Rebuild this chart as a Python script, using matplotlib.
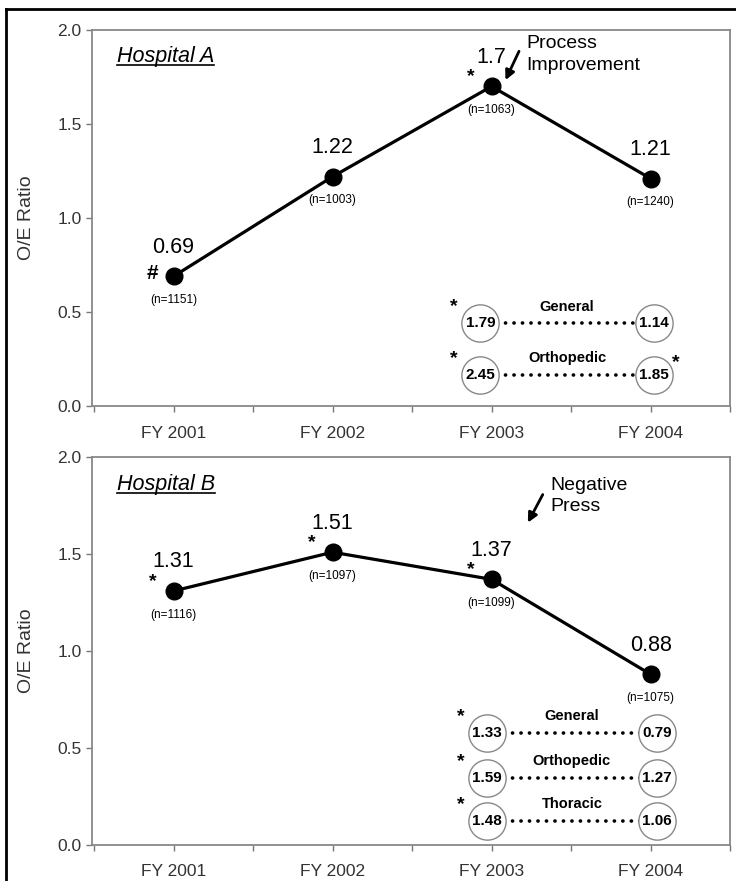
import matplotlib
matplotlib.use("Agg")
import matplotlib.pyplot as plt
from matplotlib.lines import Line2D

plt.rcParams['font.family'] = ['Liberation Sans', 'DejaVu Sans']

years = ['FY 2001', 'FY 2002', 'FY 2003', 'FY 2004']

# Hospital A
ratio_a = [0.69, 1.22, 1.7, 1.21]
labels_a = ['0.69', '1.22', '1.7', '1.21']
n_a = [1151, 1003, 1063, 1240]
mark_a = ['#', '', '*', '']
groups_a = ['General', 'Orthopedic']
first_a = [1.79, 2.45]
last_a = [1.14, 1.85]
star_first_a = [True, True]
star_last_a = [False, True]

# Hospital B
ratio_b = [1.31, 1.51, 1.37, 0.88]
labels_b = ['1.31', '1.51', '1.37', '0.88']
n_b = [1116, 1097, 1099, 1075]
mark_b = ['*', '*', '*', '']
groups_b = ['General', 'Orthopedic', 'Thoracic']
first_b = [1.33, 1.59, 1.48]
last_b = [0.79, 1.27, 1.06]
star_first_b = [True, True, True]
star_last_b = [False, False, False]

fig = plt.figure(figsize=(7.36, 8.81), dpi=100)
ax_a = fig.add_axes([0.125, 0.539, 0.867, 0.427])
ax_b = fig.add_axes([0.125, 0.041, 0.867, 0.440])

# outer frame lines (left and top)
fig.add_artist(Line2D([0.008, 0.008], [0, 0.99], transform=fig.transFigure, color='black', lw=2))
fig.add_artist(Line2D([0.008, 1], [0.99, 0.99], transform=fig.transFigure, color='black', lw=2))


def panel(ax, title, vals, labs, ns, marks, groups, first, last, sf, sl, cx, rows):
    x = list(range(len(years)))
    ax.plot(x, vals, color='black', lw=2.3, marker='o', markersize=12, zorder=3)
    for xi, v, lab, n, m in zip(x, vals, labs, ns, marks):
        ax.annotate(lab, (xi, v), xytext=(0, 21), textcoords='offset points',
                    ha='center', va='center', fontsize=15.5)
        ax.annotate('(n=%d)' % n, (xi, v), xytext=(0, -17), textcoords='offset points',
                    ha='center', va='center', fontsize=8.5)
        if m:
            ax.annotate(m, (xi, v), xytext=(-15, 7 if m == '*' else 2), textcoords='offset points',
                        ha='center', va='center', fontsize=14 if m == '*' else 15,
                        fontweight='bold')
    ax.set_xlim(-0.5125, 3.475)
    ax.set_ylim(0, 2.0)
    ax.set_xticks(x)
    ax.set_xticklabels(years)
    ax.set_xticks([-0.5, 0.5, 1.5, 2.5, 3.5], minor=True)
    ax.set_yticks([0, 0.5, 1.0, 1.5, 2.0])
    ax.set_yticklabels(['0.0', '0.5', '1.0', '1.5', '2.0'])
    ax.tick_params(axis='both', which='both', labelsize=12.5, labelcolor='#333333',
                   color='#777777', length=4, width=1)
    ax.tick_params(axis='x', pad=10)
    for s in ax.spines.values():
        s.set_color('#888888')
        s.set_linewidth(1.3)
    ax.set_ylabel('O/E Ratio', fontsize=14, color='#333333', labelpad=16)

    t = ax.text(0.039, 0.93, title, transform=ax.transAxes, fontsize=15.5,
                style='italic', ha='left', va='center')
    fig.canvas.draw()
    bb = t.get_window_extent().transformed(ax.transAxes.inverted())
    ax.plot([bb.x0, bb.x1], [bb.y0 + 0.005, bb.y0 + 0.005], transform=ax.transAxes,
            color='black', lw=1.2)

    # subgroup inset
    x0, x1 = cx
    for g, f, l, a, b, y in zip(groups, first, last, sf, sl, rows):
        ax.plot([x0, x1], [y, y], color='black', lw=2.6,
                linestyle=(0, (0.05, 2.3)), dash_capstyle='round', zorder=2)
        ax.scatter([x0, x1], [y, y], s=720, facecolors='white', edgecolors='#888888',
                   linewidths=1.0, zorder=3)
        ax.text(x0, y, '%.2f' % f, ha='center', va='center', fontsize=11,
                fontweight='bold', zorder=4)
        ax.text(x1, y, '%.2f' % l, ha='center', va='center', fontsize=11,
                fontweight='bold', zorder=4)
        ax.annotate(g, ((x0 + x1) / 2, y), xytext=(0, 12), textcoords='offset points',
                    ha='center', va='center', fontsize=10.5, fontweight='bold')
        if a:
            ax.annotate('*', (x0, y), xytext=(-19, 12), textcoords='offset points',
                        ha='center', va='center', fontsize=14, fontweight='bold')
        if b:
            ax.annotate('*', (x1, y), xytext=(16, 9), textcoords='offset points',
                        ha='center', va='center', fontsize=14, fontweight='bold')


panel(ax_a, 'Hospital A', ratio_a, labels_a, n_a, mark_a, groups_a, first_a, last_a,
      star_first_a, star_last_a, (1.93, 3.02), [0.44, 0.165])
panel(ax_b, 'Hospital B', ratio_b, labels_b, n_b, mark_b, groups_b, first_b, last_b,
      star_first_b, star_last_b, (1.97, 3.04), [0.577, 0.345, 0.124])

ax_a.text(2.22, 1.87, 'Process\nImprovement', fontsize=14, ha='left', va='center',
          linespacing=1.35)
ax_a.annotate('', xy=(2.08, 1.72), xytext=(2.18, 1.9),
              arrowprops=dict(arrowstyle='-|>', color='black', lw=2, mutation_scale=14))

ax_b.text(2.37, 1.80, 'Negative\nPress', fontsize=14, ha='left', va='center',
          linespacing=1.35)
ax_b.annotate('', xy=(2.22, 1.65), xytext=(2.33, 1.82),
              arrowprops=dict(arrowstyle='-|>', color='black', lw=2, mutation_scale=14))

fig.savefig('out.png', dpi=100)
